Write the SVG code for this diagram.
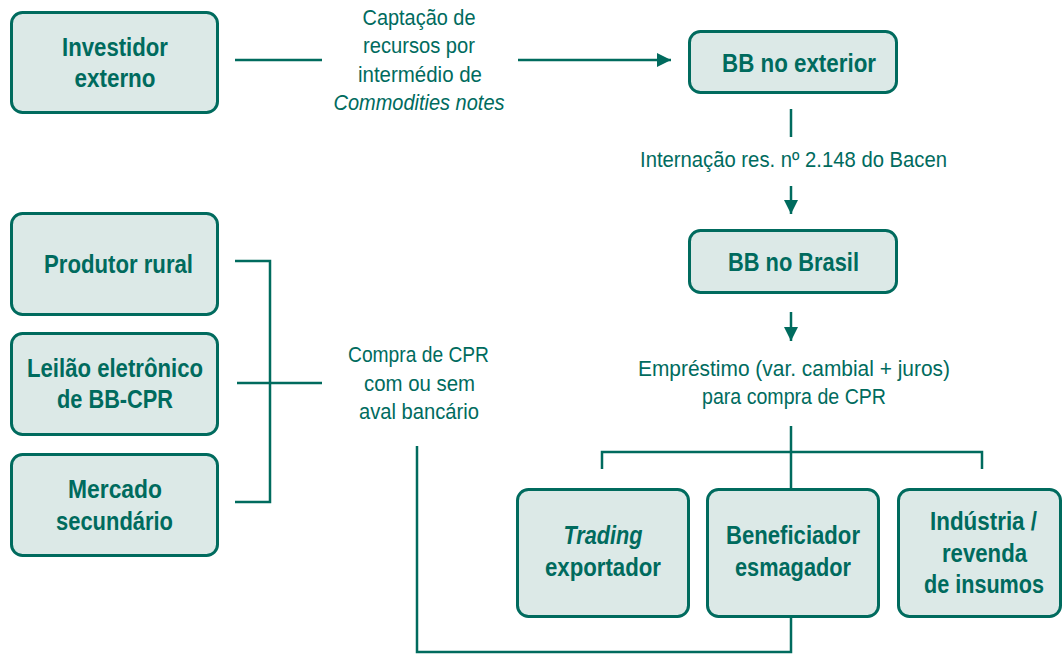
<svg xmlns="http://www.w3.org/2000/svg" width="1062" height="655" viewBox="0 0 1062 655">
<defs>
<style>
.box{fill:#dce9e7;stroke:#006b5e;stroke-width:3}
.b{font-family:"Liberation Sans",Arial,sans-serif;font-weight:bold;font-size:25px;fill:#006b5e;text-anchor:middle}
.t{font-family:"Liberation Sans",Arial,sans-serif;font-size:22px;fill:#006b5e;text-anchor:middle}
.c{fill:none;stroke:#006b5e;stroke-width:2.5}
</style>
<marker id="ah" markerWidth="14" markerHeight="14" viewBox="0 0 14 14" refX="14" refY="7" orient="auto" markerUnits="userSpaceOnUse">
<path d="M0,0 L14,7 L0,14 Z" fill="#006b5e"/>
</marker>
</defs>
<rect width="1062" height="655" fill="#ffffff"/>
<g id="connectors">
<line class="c" x1="235" y1="60" x2="322" y2="60"/>
<line class="c" x1="518" y1="60" x2="671" y2="60" marker-end="url(#ah)"/>
<line class="c" x1="791" y1="109" x2="791" y2="137"/>
<line class="c" x1="791" y1="186" x2="791" y2="214" marker-end="url(#ah)"/>
<line class="c" x1="791" y1="312" x2="791" y2="341" marker-end="url(#ah)"/>
<polyline class="c" points="235,261 270,261 270,502 235,502"/>
<line class="c" x1="237" y1="383" x2="322" y2="383"/>
<line class="c" x1="791" y1="426" x2="791" y2="489"/>
<polyline class="c" points="602,469 602,452 982,452 982,469"/>
<polyline class="c" points="791,617 791,652 417,652 417,446"/>
</g>
<g id="investidor">
<rect class="box" x="11.5" y="12.5" width="206" height="100" rx="11"/>
<text class="b" x="115" y="56" textLength="106" lengthAdjust="spacingAndGlyphs">Investidor</text>
<text class="b" x="115" y="87" textLength="81" lengthAdjust="spacingAndGlyphs">externo</text>
</g>
<g id="label-captacao">
<text class="t" x="419" y="25" textLength="113" lengthAdjust="spacingAndGlyphs">Captação de</text>
<text class="t" x="419" y="53" textLength="112" lengthAdjust="spacingAndGlyphs">recursos por</text>
<text class="t" x="420" y="82" textLength="124" lengthAdjust="spacingAndGlyphs">intermédio de</text>
<text class="t" x="419" y="110" font-style="italic" textLength="171" lengthAdjust="spacingAndGlyphs">Commodities notes</text>
</g>
<g id="bb-exterior">
<rect class="box" x="689.5" y="31.5" width="207" height="61" rx="11"/>
<text class="b" x="799" y="72" textLength="154" lengthAdjust="spacingAndGlyphs">BB no exterior</text>
</g>
<g id="label-internacao">
<text class="t" x="793.5" y="167" textLength="307" lengthAdjust="spacingAndGlyphs">Internação res. nº 2.148 do Bacen</text>
</g>
<g id="bb-brasil">
<rect class="box" x="689.5" y="230.5" width="207" height="62" rx="11"/>
<text class="b" x="793.5" y="271" textLength="131" lengthAdjust="spacingAndGlyphs">BB no Brasil</text>
</g>
<g id="label-emprestimo">
<text class="t" x="794" y="376" textLength="312" lengthAdjust="spacingAndGlyphs">Empréstimo (var. cambial + juros)</text>
<text class="t" x="794" y="404" textLength="184" lengthAdjust="spacingAndGlyphs">para compra de CPR</text>
</g>
<g id="produtor">
<rect class="box" x="11.5" y="213.5" width="206" height="101" rx="11"/>
<text class="b" x="118.5" y="273" textLength="149" lengthAdjust="spacingAndGlyphs">Produtor rural</text>
</g>
<g id="leilao">
<rect class="box" x="11.5" y="333.5" width="206" height="101" rx="11"/>
<text class="b" x="115" y="377" textLength="176" lengthAdjust="spacingAndGlyphs">Leilão eletrônico</text>
<text class="b" x="115" y="408" textLength="116" lengthAdjust="spacingAndGlyphs">de BB-CPR</text>
</g>
<g id="mercado">
<rect class="box" x="11.5" y="454.5" width="206" height="101" rx="11"/>
<text class="b" x="115" y="498" textLength="94" lengthAdjust="spacingAndGlyphs">Mercado</text>
<text class="b" x="114.5" y="530" textLength="117" lengthAdjust="spacingAndGlyphs">secundário</text>
</g>
<g id="label-compra">
<text class="t" x="418.5" y="362" textLength="141" lengthAdjust="spacingAndGlyphs">Compra de CPR</text>
<text class="t" x="419.5" y="391" textLength="111" lengthAdjust="spacingAndGlyphs">com ou sem</text>
<text class="t" x="419" y="419" textLength="120" lengthAdjust="spacingAndGlyphs">aval bancário</text>
</g>
<g id="trading">
<rect class="box" x="517.5" y="489.5" width="171" height="127" rx="11"/>
<text class="b" x="603" y="544" font-style="italic" textLength="79" lengthAdjust="spacingAndGlyphs">Trading</text>
<text class="b" x="603" y="576" textLength="116" lengthAdjust="spacingAndGlyphs">exportador</text>
</g>
<g id="beneficiador">
<rect class="box" x="707.5" y="489.5" width="171" height="127" rx="11"/>
<text class="b" x="793" y="544" textLength="134" lengthAdjust="spacingAndGlyphs">Beneficiador</text>
<text class="b" x="793" y="576" textLength="116" lengthAdjust="spacingAndGlyphs">esmagador</text>
</g>
<g id="industria">
<rect class="box" x="898.5" y="489.5" width="162" height="127" rx="11"/>
<text class="b" x="983.5" y="530" textLength="107" lengthAdjust="spacingAndGlyphs">Indústria /</text>
<text class="b" x="984.5" y="562" textLength="85" lengthAdjust="spacingAndGlyphs">revenda</text>
<text class="b" x="984" y="593" textLength="120" lengthAdjust="spacingAndGlyphs">de insumos</text>
</g>
</svg>
